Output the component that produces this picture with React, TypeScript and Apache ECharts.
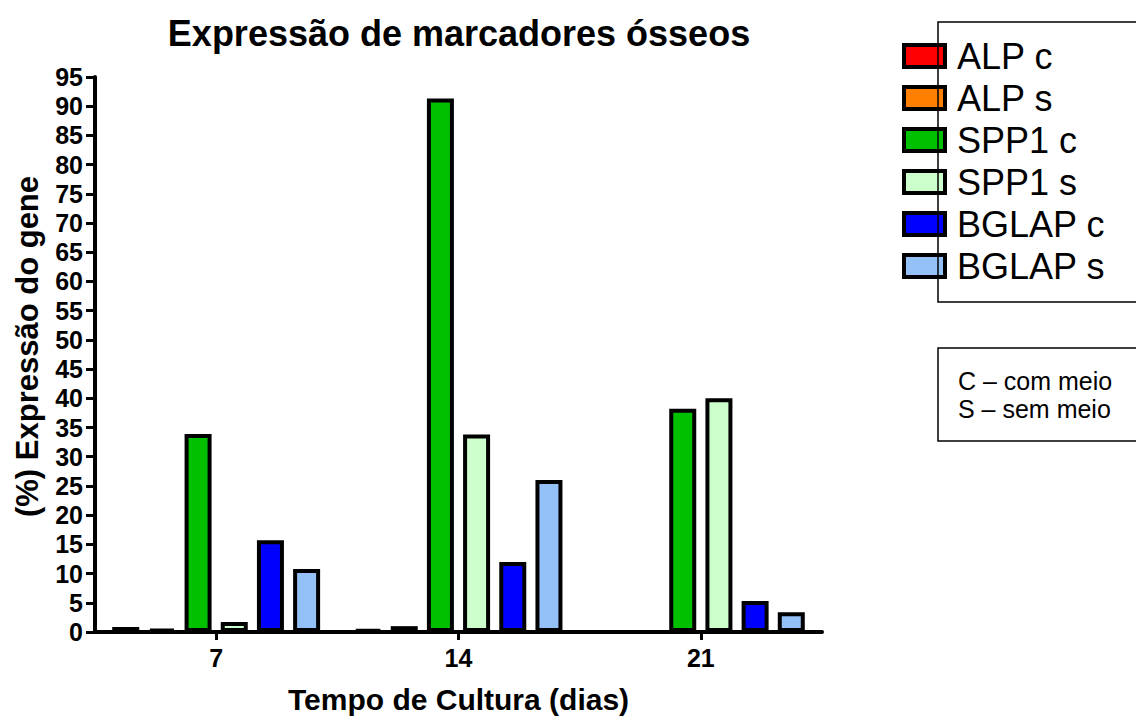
import React, { useEffect, useRef } from "react";
import * as echarts from "echarts";

const categories = ["7", "14", "21"];
const seriesNames = ["ALP c", "ALP s", "SPP1 c", "SPP1 s", "BGLAP c", "BGLAP s"];
const seriesColors = ["#ff0000", "#ff8000", "#00c000", "#ccffcc", "#0000ff", "#94c0f8"];
const alpC = [0.85, 0.4, 0];
const alpS = [0.5, 1.0, 0];
const spp1C = [33.9, 91.3, 38.2];
const spp1S = [1.7, 33.8, 40.0];
const bglapC = [15.7, 12.0, 5.3];
const bglapS = [10.8, 26.0, 3.4];
const yTicks = { min: 0, max: 95, interval: 5 };
const titleText = "Expressão de marcadores ósseos";
const xName = "Tempo de Cultura (dias)";
const yName = "(%) Expressão do gene";
const noteLines = ["C – com meio", "S – sem meio"];

const FONT = "'Liberation Sans', Arial, sans-serif";

export default function App() {
  const ref = useRef<HTMLDivElement>(null);
  useEffect(() => {
    if (!ref.current) return;
    const chart = echarts.init(ref.current, null, { renderer: "svg" });
    const allData = [alpC, alpS, spp1C, spp1S, bglapC, bglapS];
    const option = {
      animation: false,
      backgroundColor: "#ffffff",
      title: {
        text: titleText,
        left: 454,
        top: 10,
        textAlign: "center",
        textStyle: { fontFamily: FONT, fontWeight: "bold", fontSize: 36, color: "#000" },
      },
      legend: {
        orient: "vertical",
        left: 897,
        top: 33,
        itemWidth: 41,
        itemHeight: 22,
        itemGap: 6,
        icon: "rect",
        data: seriesNames,
        itemStyle: { borderColor: "#000", borderWidth: 4 },
        textStyle: { fontFamily: FONT, fontSize: 36, color: "#000", padding: [0, 0, 0, 7] },
      },
      grid: { left: 95, right: 314, top: 77, bottom: 88, containLabel: false },
      xAxis: {
        type: "category",
        data: categories,
        name: xName,
        nameLocation: "middle",
        nameGap: 52,
        nameTextStyle: { fontFamily: FONT, fontWeight: "bold", fontSize: 30, color: "#000" },
        axisLine: { lineStyle: { color: "#000", width: 4 } },
        axisTick: { show: true, alignWithLabel: true, length: 8, lineStyle: { color: "#000", width: 3 } },
        axisLabel: { fontFamily: FONT, fontWeight: "bold", fontSize: 25, color: "#000", margin: 13 },
        splitLine: { show: false },
      },
      yAxis: {
        type: "value",
        min: yTicks.min,
        max: yTicks.max,
        interval: yTicks.interval,
        name: yName,
        nameLocation: "middle",
        nameGap: 52,
        nameTextStyle: { fontFamily: FONT, fontWeight: "bold", fontSize: 31, color: "#000", padding: [0, 0, 0, 16] },
        axisLine: { show: true, lineStyle: { color: "#000", width: 4 } },
        axisTick: { show: true, length: 9, lineStyle: { color: "#000", width: 3 } },
        axisLabel: { fontFamily: FONT, fontWeight: "bold", fontSize: 25, color: "#000", margin: 12 },
        splitLine: { show: false },
      },
      series: seriesNames.map((name, i) => ({
        name,
        type: "bar",
        data: allData[i],
        barWidth: 27,
        barGap: "34%",
        itemStyle: { color: seriesColors[i], borderColor: "#000", borderWidth: 4 },
      })),
      graphic: [
        { type: "rect", shape: { x: 938, y: 22, width: 220, height: 280 }, style: { fill: "none", stroke: "#000", lineWidth: 1.5 }, z: 10 },
        { type: "rect", shape: { x: 938, y: 348, width: 220, height: 93 }, style: { fill: "none", stroke: "#000", lineWidth: 1.5 }, z: 10 },
        { type: "text", x: 958, y: 381, style: { text: noteLines[0], fontFamily: FONT, fontSize: 25, fill: "#000", textVerticalAlign: "middle" }, z: 10 },
        { type: "text", x: 958, y: 409, style: { text: noteLines[1], fontFamily: FONT, fontSize: 25, fill: "#000", textVerticalAlign: "middle" }, z: 10 },
      ],
    };
    chart.setOption(option as any);
    return () => chart.dispose();
  }, []);
  return <div ref={ref} style={{ width: 1136, height: 720, position: "absolute", left: 0, top: 0 }} />;
}
